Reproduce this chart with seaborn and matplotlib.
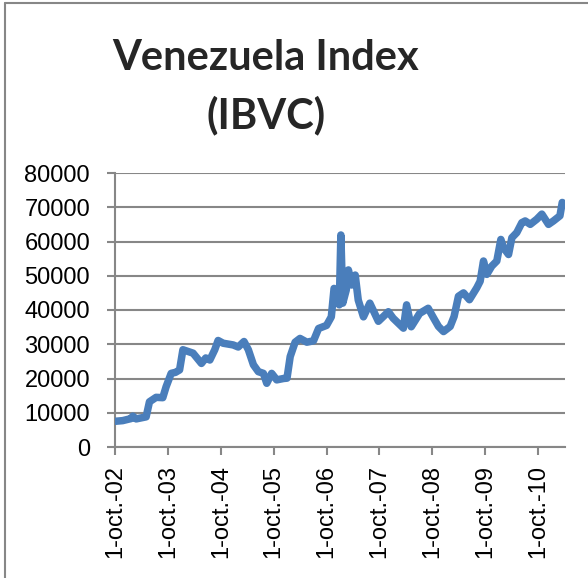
import matplotlib
matplotlib.use("Agg")
import matplotlib.pyplot as plt
from matplotlib.lines import Line2D
import pandas as pd
import seaborn as sns

# ---- data ----
dates = [
    "2002-10-01", "2002-11-23", "2003-01-20", "2003-02-01", "2003-02-24", "2003-05-04",
    "2003-05-27", "2003-07-12", "2003-08-27", "2003-09-19", "2003-10-24", "2003-11-23",
    "2003-12-21", "2004-01-13", "2004-03-23", "2004-05-20", "2004-06-19", "2004-07-17",
    "2004-08-20", "2004-09-12", "2004-10-17", "2004-12-25", "2005-01-29", "2005-03-10",
    "2005-04-09", "2005-05-14", "2005-06-17", "2005-07-22", "2005-08-14", "2005-09-17",
    "2005-10-22", "2005-12-08", "2006-01-01", "2006-01-23", "2006-02-26", "2006-04-01",
    "2006-05-18", "2006-07-03", "2006-08-07", "2006-10-01", "2006-11-03", "2006-11-22",
    "2006-12-15", "2006-12-28", "2007-01-08", "2007-01-21", "2007-02-14", "2007-03-01",
    "2007-03-24", "2007-04-17", "2007-05-08", "2007-06-13", "2007-07-27", "2007-09-24",
    "2007-12-02", "2008-01-04", "2008-03-15", "2008-04-06", "2008-05-08", "2008-07-05",
    "2008-09-02", "2008-10-09", "2008-11-12", "2008-12-17", "2009-02-01",
    "2009-02-28", "2009-03-30", "2009-05-04", "2009-06-14", "2009-08-04", "2009-08-27",
    "2009-09-19", "2009-10-12", "2009-11-15", "2009-12-20", "2010-01-17", "2010-02-04",
    "2010-03-11", "2010-04-03", "2010-05-07", "2010-06-11", "2010-07-04", "2010-08-08",
    "2010-09-22", "2010-10-27", "2010-12-12", "2011-01-15", "2011-03-01", "2011-03-17",
    "2011-03-31",
]
values = [
    7500, 7700, 8300, 9000, 8200, 8800,
    13200, 14500, 14400, 17600, 21500, 21800,
    22500, 28400, 27400, 24400, 26000, 25400,
    28400, 31100, 30300, 29800, 29200, 30800,
    28400, 24000, 22000, 21500, 18600, 21500,
    19600, 20000, 20100, 26400, 30600, 31700,
    30600, 31000, 34600, 35500, 38000, 46300,
    45400, 41500, 61900, 42000, 45800, 51700,
    47300, 50200, 42900, 38000, 42000, 36700,
    39500, 37600, 34700, 41500, 35100, 39000,
    40500, 37700, 35200, 33700, 35200,
    38100, 44000, 45000, 43000, 46500, 48400,
    54300, 50400, 52800, 54300, 60600, 58200,
    56200, 61100, 62600, 65500, 66000, 65000,
    66500, 68000, 65000, 66000, 67500, 71400,
    70900,
]
tick_dates = ["2002-10-01", "2003-10-01", "2004-10-01", "2005-10-01", "2006-10-01",
              "2007-10-01", "2008-10-01", "2009-10-01", "2010-10-01"]
tick_labels = ["1-oct.-02", "1-oct.-03", "1-oct.-04", "1-oct.-05", "1-oct.-06",
               "1-oct.-07", "1-oct.-08", "1-oct.-09", "1-oct.-10"]
y_ticks = [0, 10000, 20000, 30000, 40000, 50000, 60000, 70000, 80000]
title_lines = ["Venezuela Index", "(IBVC)"]

# ---- style ----
sns.set_theme(style="white")
plt.rcParams["font.family"] = ["Liberation Sans", "DejaVu Sans"]
GRAY = "#878787"
BLUE = "#4A7EBB"

W, H = 588, 578
fig = plt.figure(figsize=(W / 100, H / 100), dpi=100)
fig.patch.set_facecolor("white")
ax = fig.add_axes([115 / W, 1 - 447 / H, 450 / W, 274 / H])

df = pd.DataFrame({"date": pd.to_datetime(dates), "value": values})
sns.lineplot(data=df, x="date", y="value", ax=ax, color=BLUE, linewidth=5.4,
             solid_capstyle="round", solid_joinstyle="round", zorder=3)

ax.set_xlim(pd.Timestamp("2002-10-01"), pd.Timestamp("2011-04-05"))
ax.set_ylim(0, 80000)
ax.set_yticks(y_ticks)
ax.set_yticklabels([str(v) for v in y_ticks])
ax.set_xticks(pd.to_datetime(tick_dates))
ax.set_xticklabels(tick_labels, rotation=90, ha="center", va="top")
ax.set_xlabel("")
ax.set_ylabel("")

ax.grid(axis="y", color=GRAY, linewidth=1.5)
ax.grid(axis="x", visible=False)
ax.set_axisbelow(True)
for s in ["top", "right"]:
    ax.spines[s].set_visible(False)
for s in ["left", "bottom"]:
    ax.spines[s].set_color(GRAY)
    ax.spines[s].set_linewidth(1.5)
ax.tick_params(axis="both", which="major", length=6, width=1.5, color=GRAY,
               direction="out", labelsize=17, labelcolor="black")
ax.tick_params(axis="y", pad=12, left=True)
ax.tick_params(axis="x", pad=7, bottom=True)

# title
title_family = ["Lato", "Liberation Sans", "DejaVu Sans"]
fig.text(266 / W, 1 - 70 / H, title_lines[0], ha="center", va="baseline",
         fontsize=30, fontweight="bold", family=title_family)
fig.text(266 / W, 1 - 128 / H, title_lines[1], ha="center", va="baseline",
         fontsize=30, fontweight="bold", family=title_family)

# chart-area frame (left and top edges visible in the reference)
fig.add_artist(Line2D([5 / W, 5 / W], [0, 1 - 3 / H], transform=fig.transFigure,
                      color=GRAY, linewidth=1.5))
fig.add_artist(Line2D([5 / W, 1], [1 - 3 / H, 1 - 3 / H], transform=fig.transFigure,
                      color=GRAY, linewidth=1.5))

fig.savefig("out.png", dpi=100)
